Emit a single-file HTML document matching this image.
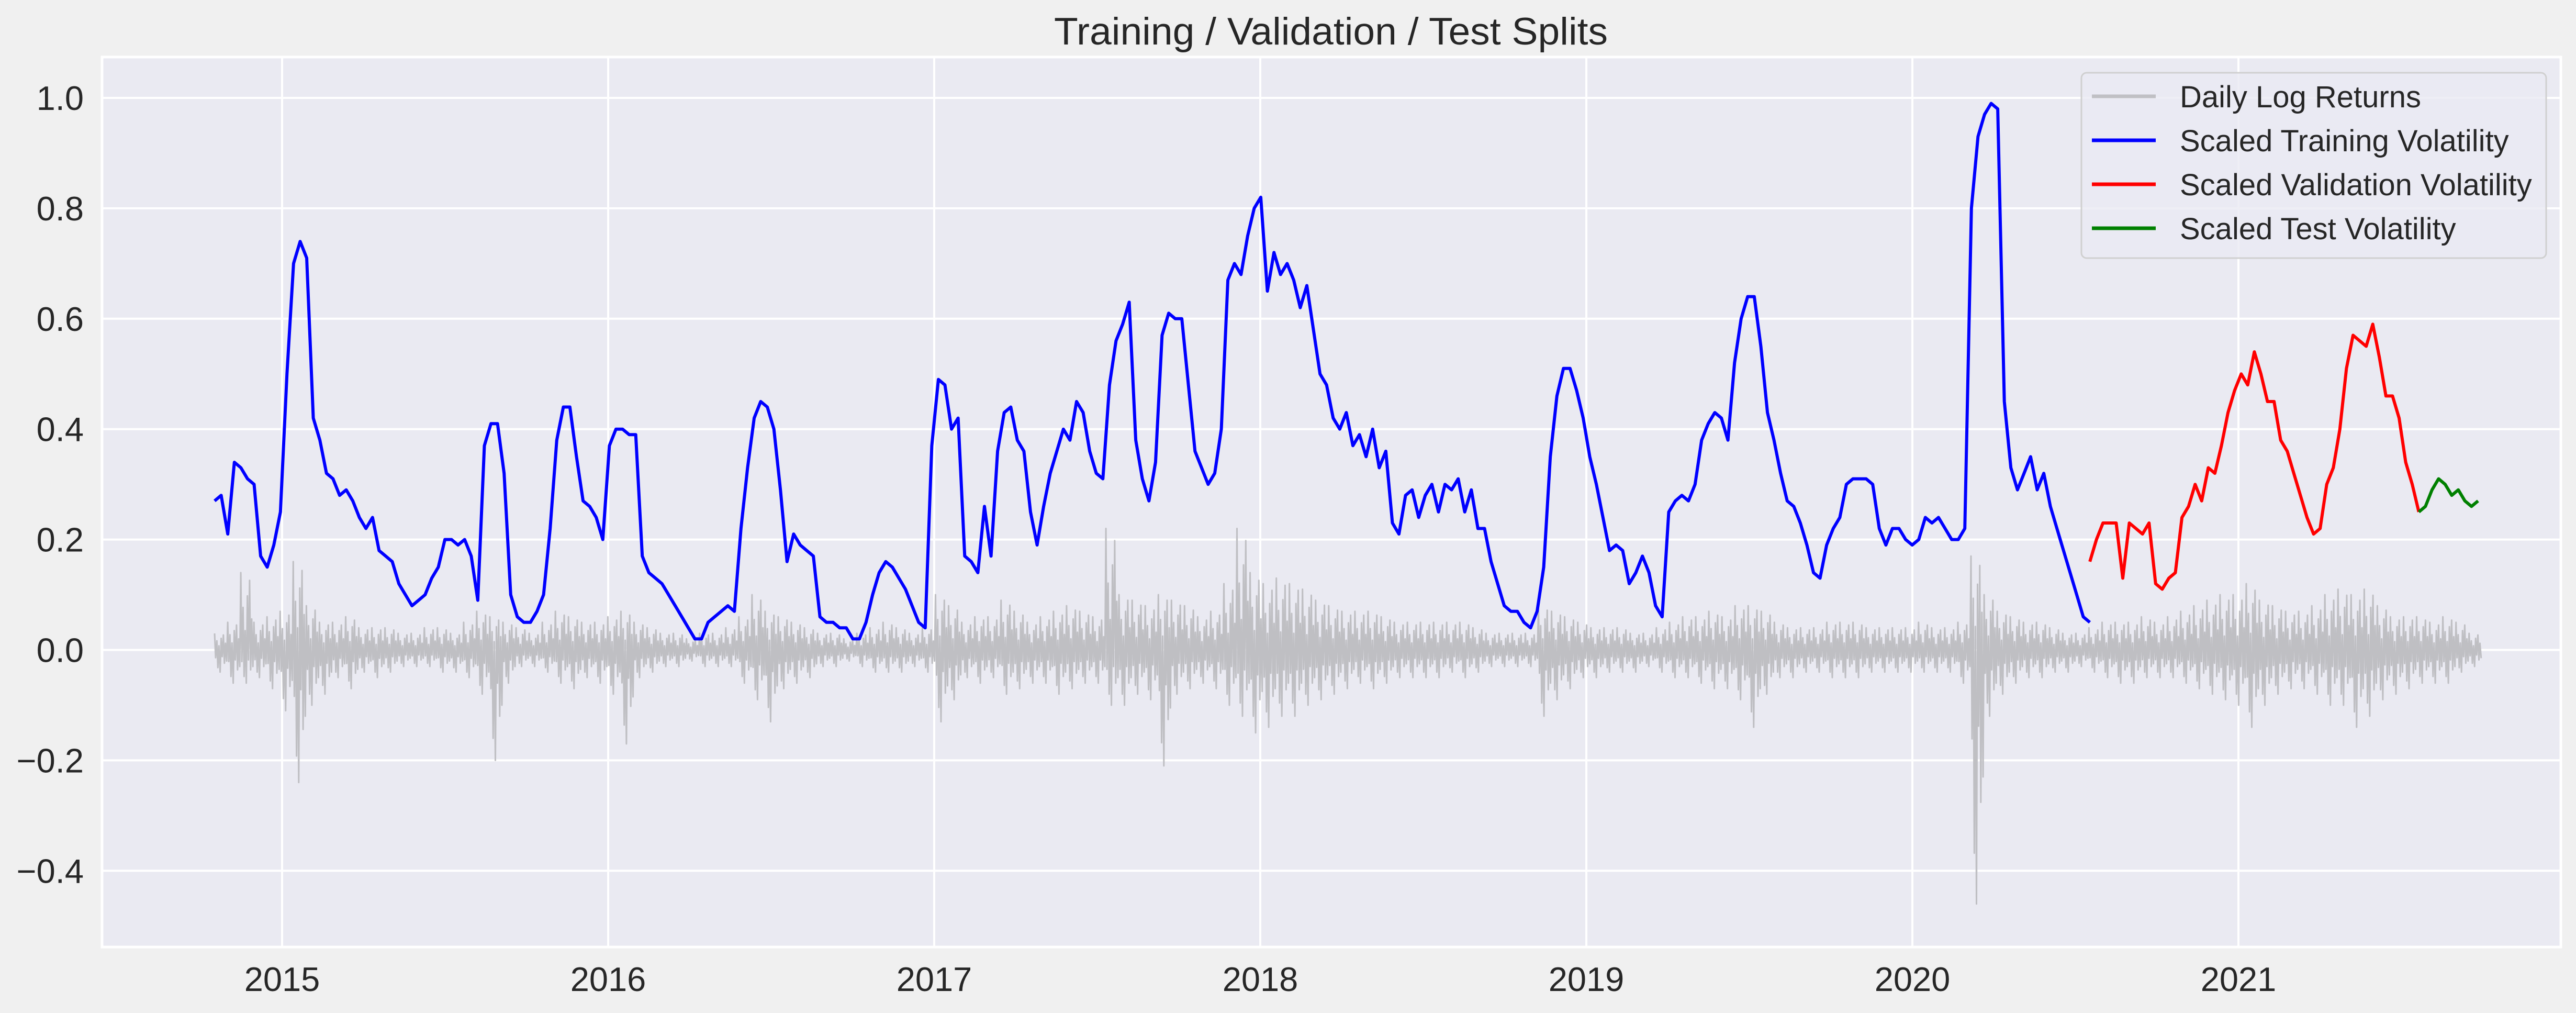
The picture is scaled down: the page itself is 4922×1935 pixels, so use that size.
<!DOCTYPE html>
<html><head><meta charset="utf-8"><style>
html,body{margin:0;padding:0;background:#f0f0f0;}
svg{display:block;font-family:"Liberation Sans",Arial,sans-serif;}
</style></head><body>
<svg id="chart" width="4922" height="1935" viewBox="0 0 4922 1935" xmlns="http://www.w3.org/2000/svg">
<rect x="0" y="0" width="4922" height="1935" fill="#f0f0f0"/>
<rect x="195" y="109" width="4698" height="1700" fill="#eaeaf2"/>
<g id="grid"></g>
<g id="yticks"></g>
<g id="xticks"></g>
<g id="series"></g>
<text x="2543" y="85" font-size="73" fill="#262626" text-anchor="middle" textLength="1058" lengthAdjust="spacingAndGlyphs">Training / Validation / Test Splits</text>
<g>
<rect x="3977" y="139" width="888" height="354" rx="10" fill="#eaeaf2" fill-opacity="0.8" stroke="#d0d0d0" stroke-width="3"/>
<g><line x1="3997" y1="184" x2="4119" y2="184" stroke="#c0c0c4" stroke-width="7"/><text x="4165" y="205" font-size="58" fill="#262626">Daily Log Returns</text></g>
<g><line x1="3997" y1="268" x2="4119" y2="268" stroke="#0000ff" stroke-width="7"/><text x="4165" y="289" font-size="58" fill="#262626">Scaled Training Volatility</text></g>
<g><line x1="3997" y1="352" x2="4119" y2="352" stroke="#ff0000" stroke-width="7"/><text x="4165" y="373" font-size="58" fill="#262626">Scaled Validation Volatility</text></g>
<g><line x1="3997" y1="436" x2="4119" y2="436" stroke="#008000" stroke-width="7"/><text x="4165" y="457" font-size="58" fill="#262626">Scaled Test Volatility</text></g>
</g>
</svg>
<script>
const yTicks = [1.0, 0.8, 0.6, 0.4, 0.2, 0.0, -0.2, -0.4];
const yTickLabels = ["1.0","0.8","0.6","0.4","0.2","0.0","\u22120.2","\u22120.4"];
const xTicks = [2015,2016,2017,2018,2019,2020,2021];
const xTickLabels = ["2015","2016","2017","2018","2019","2020","2021"];
const volStart = 2014.793;
const volStep = 0.02018;
const trainVol = [.27,.28,.21,.34,.33,.31,.30,.17,.15,.19,.25,.50,.70,.74,.71,.42,.38,.32,.31,.28,.29,.27,.24,.22,.24,.18,.17,.16,.12,.10,.08,.09,.10,.13,.15,.20,.20,.19,.20,.17,.09,.37,.41,.41,.32,.10,.06,.05,.05,.07,.10,.22,.38,.44,.44,.35,.27,.26,.24,.20,.37,.40,.40,.39,.39,.17,.14,.13,.12,.10,.08,.06,.04,.02,.02,.05,.06,.07,.08,.07,.22,.33,.42,.45,.44,.40,.29,.16,.21,.19,.18,.17,.06,.05,.05,.04,.04,.02,.02,.05,.10,.14,.16,.15,.13,.11,.08,.05,.04,.37,.49,.48,.40,.42,.17,.16,.14,.26,.17,.36,.43,.44,.38,.36,.25,.19,.26,.32,.36,.40,.38,.45,.43,.36,.32,.31,.48,.56,.59,.63,.38,.31,.27,.34,.57,.61,.60,.60,.48,.36,.33,.30,.32,.40,.67,.70,.68,.75,.80,.82,.65,.72,.68,.70,.67,.62,.66,.58,.50,.48,.42,.40,.43,.37,.39,.35,.40,.33,.36,.23,.21,.28,.29,.24,.28,.30,.25,.30,.29,.31,.25,.29,.22,.22,.16,.12,.08,.07,.07,.05,.04,.07,.15,.35,.46,.51,.51,.47,.42,.35,.30,.24,.18,.19,.18,.12,.14,.17,.14,.08,.06,.25,.27,.28,.27,.30,.38,.41,.43,.42,.38,.52,.60,.64,.64,.55,.43,.38,.32,.27,.26,.23,.19,.14,.13,.19,.22,.24,.30,.31,.31,.31,.30,.22,.19,.22,.22,.20,.19,.20,.24,.23,.24,.22,.20,.20,.22,.80,.93,.97,.99,.98,.45,.33,.29,.32,.35,.29,.32,.26,.22,.18,.14,.10,.06,.05];
const valVol = [.16,.20,.23,.23,.23,.13,.23,.22,.21,.23,.12,.11,.13,.14,.24,.26,.30,.27,.33,.32,.37,.43,.47,.50,.48,.54,.50,.45,.45,.38,.36,.32,.28,.24,.21,.22,.30,.33,.40,.51,.57,.56,.55,.59,.53,.46,.46,.42,.34,.30,.25];
const testVol = [.25,.26,.29,.31,.30,.28,.29,.27,.26,.27];
const retStart = 2014.793;
const retStep = 0.0402;
const retHi = [.03,.05,.14,.05,.06,.07,.16,.08,.05,.05,.06,.04,.04,.04,.03,.03,.04,.04,.03,.05,.07,.06,.05,.04,.03,.05,.07,.06,.05,.05,.06,.07,.05,.04,.03,.03,.02,.03,.03,.04,.06,.10,.07,.06,.05,.04,.03,.03,.02,.03,.04,.05,.04,.03,.04,.10,.08,.05,.06,.06,.09,.07,.05,.06,.07,.08,.07,.06,.22,.10,.09,.08,.10,.09,.08,.06,.07,.12,.22,.14,.12,.13,.12,.11,.09,.08,.07,.07,.07,.06,.05,.05,.05,.05,.05,.05,.04,.03,.03,.03,.03,.08,.07,.06,.05,.04,.04,.04,.03,.03,.04,.05,.06,.06,.07,.06,.08,.08,.07,.05,.04,.04,.04,.05,.05,.05,.04,.04,.04,.04,.05,.04,.04,.05,.17,.10,.07,.06,.05,.05,.04,.03,.03,.04,.05,.05,.05,.06,.05,.06,.07,.08,.09,.10,.10,.12,.09,.08,.07,.07,.08,.10,.11,.10,.11,.08,.06,.06,.06,.05,.06,.05,.03];
const retLo = [-.04,-.06,-.06,-.05,-.07,-.11,-.24,-.10,-.08,-.05,-.07,-.04,-.05,-.04,-.03,-.03,-.03,-.04,-.04,-.05,-.08,-.20,-.06,-.03,-.03,-.04,-.06,-.07,-.05,-.06,-.08,-.17,-.05,-.04,-.03,-.03,-.02,-.03,-.03,-.03,-.06,-.09,-.13,-.07,-.06,-.05,-.03,-.03,-.02,-.03,-.04,-.04,-.04,-.03,-.04,-.13,-.09,-.05,-.06,-.05,-.08,-.07,-.06,-.06,-.08,-.07,-.06,-.06,-.10,-.10,-.08,-.09,-.21,-.08,-.07,-.06,-.07,-.10,-.12,-.15,-.14,-.12,-.12,-.10,-.09,-.08,-.07,-.06,-.07,-.06,-.05,-.05,-.05,-.05,-.04,-.05,-.04,-.03,-.03,-.03,-.03,-.12,-.09,-.07,-.05,-.05,-.04,-.04,-.04,-.03,-.04,-.05,-.05,-.06,-.07,-.07,-.09,-.14,-.08,-.05,-.05,-.04,-.04,-.05,-.05,-.05,-.04,-.04,-.04,-.04,-.04,-.04,-.04,-.06,-.46,-.12,-.08,-.06,-.05,-.05,-.04,-.04,-.03,-.04,-.05,-.06,-.06,-.05,-.05,-.05,-.06,-.07,-.08,-.09,-.10,-.14,-.10,-.08,-.07,-.07,-.08,-.10,-.10,-.14,-.12,-.09,-.08,-.07,-.06,-.06,-.06,-.04,-.03];

const NS = "http://www.w3.org/2000/svg";
const PL = 195, PR = 4893, PT = 109, PB = 1809;
function xScale(yr){ return 539 + (yr - 2015) * 623; }
function yScale(v){ return 1241.5 - v * 1054.5; }
function mk(tag, attrs, parent){ const e = document.createElementNS(NS, tag); for (const k in attrs) e.setAttribute(k, attrs[k]); parent.appendChild(e); return e; }

const grid = document.getElementById('grid');
const yg = document.getElementById('yticks');
const xg = document.getElementById('xticks');
yTicks.forEach((v,i)=>{
  const y = yScale(v);
  const l = mk('line',{x1:PL,x2:PR,y1:y,y2:y,stroke:'#ffffff','stroke-width':4},grid);
  
  
  const t = mk('text',{x:160,y:y+23,'font-size':65,fill:'#262626','text-anchor':'end'},yg);
  
  
  t.textContent = yTickLabels[i];
});
xTicks.forEach((yr,i)=>{
  const x = xScale(yr);
  const l = mk('line',{x1:x,x2:x,y1:PT,y2:PB,stroke:'#ffffff','stroke-width':4},grid);
  
  
  const t = mk('text',{x:x,y:1893,'font-size':65,fill:'#262626','text-anchor':'middle'},xg);
  
  
  t.textContent = xTickLabels[i];
});
mk('rect',{x:PL,y:PT,width:PR-PL,height:PB-PT,fill:'none',stroke:'#ffffff','stroke-width':5},grid);

const sg = document.getElementById('series');
const pattern = [[0,1],[0.08,-0.35],[0.17,0.55],[0.25,-0.8],[0.33,0.25],[0.42,-1],[0.5,0.7],[0.58,-0.3],[0.67,0.9],[0.75,-0.6],[0.83,0.4],[0.92,-0.5]];
let rp = [];
retHi.forEach((h,i)=>{
  const lo = retLo[i];
  pattern.forEach(p=>{
    const t = retStart + (i + p[0]) * retStep;
    const v = p[1] > 0 ? h * p[1] : -lo * p[1];
    rp.push(xScale(t).toFixed(1)+','+yScale(v).toFixed(1));
  });
});
const rl = mk('polyline',{points:rp.join(' '),fill:'none',stroke:'#bfbfc3','stroke-width':3,'stroke-linejoin':'round'},sg);



function drawVol(arr, offset, color, name){
  const pts = arr.map((v,i)=> xScale(volStart + (offset + i) * volStep).toFixed(1)+','+yScale(v).toFixed(1));
  const p = mk('polyline',{points:pts.join(' '),fill:'none',stroke:color,'stroke-width':6,'stroke-linejoin':'round'},sg);
  
  
}
drawVol(trainVol, 0, '#0000ff', 'training-volatility-line');
drawVol(valVol, trainVol.length - 1, '#ff0000', 'validation-volatility-line');
drawVol(testVol, trainVol.length + valVol.length - 2, '#008000', 'test-volatility-line');
</script>
</body></html>
